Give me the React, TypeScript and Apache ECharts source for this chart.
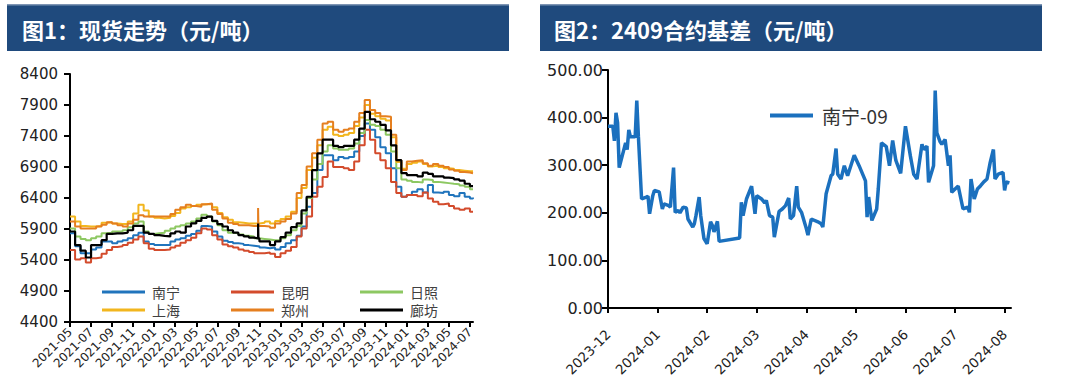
import React, { useEffect, useRef } from 'react';
import * as echarts from 'echarts';

// ---------- Chart 1: spot prices (yuan/ton) ----------
const spotDates = [
  '2021-05-01','2021-05-16','2021-06-01','2021-06-16','2021-07-01','2021-07-16','2021-08-01','2021-08-16',
  '2021-09-01','2021-09-16','2021-10-01','2021-10-16','2021-11-01','2021-11-16','2021-12-01','2021-12-16',
  '2022-01-01','2022-01-16','2022-02-01','2022-02-16','2022-03-01','2022-03-16','2022-04-01','2022-04-16',
  '2022-05-01','2022-05-16','2022-06-01','2022-06-16','2022-07-01','2022-07-16','2022-08-01','2022-08-16',
  '2022-09-01','2022-09-16','2022-10-01','2022-10-16','2022-10-28','2022-10-29',
  '2022-11-01','2022-11-16','2022-12-01','2022-12-16',
  '2023-01-01','2023-01-16','2023-02-01','2023-02-16','2023-03-01','2023-03-16','2023-04-01','2023-04-16',
  '2023-05-01','2023-05-16','2023-06-01','2023-06-16','2023-07-01','2023-07-16','2023-08-01','2023-08-16',
  '2023-09-01','2023-09-16','2023-10-01','2023-10-16','2023-11-01','2023-11-16','2023-12-01','2023-12-16',
  '2024-01-01','2024-01-16','2024-02-01','2024-02-16','2024-03-01','2024-03-16','2024-04-01','2024-04-16',
  '2024-05-01','2024-05-16','2024-06-01','2024-06-16','2024-07-01','2024-07-10',
];

const nanning = [
  5830,5620,5510,5510,5570,5600,5700,5700,5670,5700,5720,5750,5800,5840,5700,5660,
  5640,5640,5640,5700,5730,5750,5790,5820,5870,5950,5940,5860,5780,5710,5690,5670,5660,5640,5630,5620,
  5620,5620,
  5600,5590,5600,5570,
  5610,5670,5720,5790,5940,6260,6480,6850,7090,7090,7010,7060,7040,7060,7150,7400,7600,7500,7380,7220,7120,6880,6580,6420,
  6450,6500,6540,6490,6610,6490,6480,6500,6450,6430,6480,6420,6390,6410,
];
const kunming = [
  5560,5410,5430,5360,5430,5440,5500,5560,5610,5620,5640,5680,5730,5780,5670,5580,
  5560,5560,5570,5600,5630,5680,5720,5760,5830,5910,5890,5800,5730,5650,5620,5600,5570,5550,5530,5510,
  5510,5510,
  5510,5520,5500,5450,
  5510,5550,5610,5780,5910,6100,6420,6580,6740,6990,6900,6900,6880,6850,6990,7250,7500,7340,7120,7010,6880,6660,6480,6420,
  6450,6450,6430,6490,6390,6340,6300,6310,6270,6230,6210,6230,6180,6180,
];
const rizhao = [
  5910,5780,5740,5720,5750,5780,5830,5840,5860,5860,5880,5930,5990,6020,5860,5820,
  5830,5840,5870,5910,5940,5960,5990,6020,6070,6130,6100,6020,5960,5880,5840,5830,5810,5790,5780,5750,
  5750,5750,
  5740,5730,5720,5720,
  5750,5800,5880,5950,6150,6400,6700,6950,7150,7250,7200,7180,7180,7200,7280,7450,7660,7580,7560,7500,7420,7150,6880,6700,
  6680,6660,6650,6700,6690,6660,6650,6640,6630,6620,6600,6580,6540,6550,
];
const shanghai = [
  6100,6020,5950,5940,5940,5950,6000,6010,5990,5980,5980,6020,6150,6290,6200,6100,
  6080,6070,6080,6110,6160,6230,6250,6270,6290,6300,6300,6250,6160,6090,6050,6010,6000,5990,5990,5990,
  5990,5990,
  6000,6020,5990,6030,
  6060,6100,6180,6400,6560,6850,7050,7250,7500,7550,7420,7400,7420,7450,7560,7700,7900,7760,7720,7680,7650,7380,6980,6870,
  6950,6970,6990,6950,6910,6920,6900,6880,6870,6850,6840,6830,6830,6820,
];
const zhengzhou = [
  6020,5940,5910,5910,5910,5940,5970,6010,5990,5960,5940,5990,6050,6120,6100,6100,
  6100,6100,6100,6140,6210,6250,6290,6270,6260,6300,6310,6210,6140,6070,6000,5980,5960,5960,5950,5950,
  6240,5950,
  5950,5940,5920,5990,
  6020,6060,6150,6480,6610,6910,7120,7340,7600,7630,7500,7470,7500,7520,7630,7770,7980,7820,7770,7720,7710,7420,7010,6850,
  6990,7000,7010,6960,6920,6950,6920,6900,6860,6840,6820,6810,6800,6800,
];
const langfang = [
  5860,5640,5550,5440,5640,5640,5720,5820,5830,5830,5840,5880,5950,5950,5840,5820,
  5800,5790,5780,5830,5860,5840,5940,5990,6030,6080,6100,6030,5980,5940,5880,5840,5800,5780,5760,5750,
  5990,5750,
  5700,5700,5640,5700,
  5770,5840,5930,5990,6200,6420,6850,7120,7340,7340,7240,7220,7240,7240,7340,7520,7790,7670,7630,7580,7490,7250,7010,6800,
  6770,6770,6750,6810,6790,6750,6750,6730,6720,6700,6680,6630,6590,6580,
];

const spotNames = ['南宁', '昆明', '日照', '上海', '郑州', '廊坊'];
const spotColors = ['#2074BC', '#D34B2C', '#8DC862', '#F2B61E', '#E57F1F', '#000000'];
const spotTickLabels = [
  '2021-05','2021-07','2021-09','2021-11','2022-01','2022-03','2022-05','2022-07','2022-09','2022-11',
  '2023-01','2023-03','2023-05','2023-07','2023-09','2023-11','2024-01','2024-03','2024-05','2024-07',
];
const spotYTicks = [4400, 4900, 5400, 5900, 6400, 6900, 7400, 7900, 8400];

// ---------- Chart 2: 2409 contract basis ----------
const basisDates = [
  '2023-12-01','2023-12-04','2023-12-05','2023-12-06','2023-12-07','2023-12-08','2023-12-12','2023-12-13',
  '2023-12-14','2023-12-15','2023-12-18','2023-12-19','2023-12-20','2023-12-22','2023-12-25','2023-12-26',
  '2023-12-27','2023-12-29','2023-12-30','2024-01-02','2024-01-04','2024-01-05','2024-01-08','2024-01-09',
  '2024-01-11','2024-01-12','2024-01-14','2024-01-15','2024-01-17','2024-01-19','2024-01-20','2024-01-23',
  '2024-01-24','2024-01-25','2024-01-27','2024-01-28','2024-01-30','2024-02-01','2024-02-03','2024-02-04',
  '2024-02-05','2024-02-07','2024-02-08','2024-02-20','2024-02-21','2024-02-22','2024-02-24','2024-02-27',
  '2024-02-29','2024-03-01','2024-03-04','2024-03-06','2024-03-07','2024-03-09','2024-03-11','2024-03-12',
  '2024-03-15','2024-03-17','2024-03-19','2024-03-21','2024-03-22','2024-03-24','2024-03-26','2024-03-27',
  '2024-03-29','2024-04-01','2024-04-02','2024-04-04','2024-04-08','2024-04-10','2024-04-11','2024-04-13',
  '2024-04-16','2024-04-17','2024-04-19','2024-04-20','2024-04-22','2024-04-24','2024-04-26','2024-04-30',
  '2024-05-03','2024-05-07','2024-05-08','2024-05-09','2024-05-11','2024-05-14','2024-05-15','2024-05-17',
  '2024-05-20','2024-05-22','2024-05-24','2024-05-26','2024-05-29','2024-06-01','2024-06-04','2024-06-06',
  '2024-06-08','2024-06-11','2024-06-12','2024-06-14','2024-06-15','2024-06-18','2024-06-19','2024-06-20',
  '2024-06-22','2024-06-23','2024-06-25','2024-06-27','2024-06-28','2024-06-29','2024-07-02','2024-07-03',
  '2024-07-06','2024-07-09','2024-07-10','2024-07-11','2024-07-13','2024-07-15','2024-07-17','2024-07-19',
  '2024-07-21','2024-07-23','2024-07-25','2024-07-26','2024-07-28','2024-07-31','2024-08-01','2024-08-02',
  '2024-08-04',
];
const basisValues = [
  382,382,351,410,389,295,347,333,
  374,360,360,436,361,229,233,235,
  198,236,247,244,208,219,215,212,
  295,201,205,200,212,210,187,170,
  177,194,233,194,146,135,181,174,
  160,182,140,147,222,194,229,256,
  198,236,229,221,226,194,191,149,
  203,208,215,231,187,194,256,212,
  201,167,153,187,181,177,170,240,
  278,281,335,281,271,299,278,321,
  299,267,191,233,184,208,250,347,
  339,299,352,310,283,382,319,281,
  271,344,333,340,264,299,457,368,
  349,344,354,299,321,243,253,256,
  208,212,201,271,229,250,257,265,
  271,306,333,271,281,285,247,265,
  263,
];
const basisName = '南宁-09';
const basisColor = '#1B70BE';
const basisTickLabels = [
  '2023-12','2024-01','2024-02','2024-03','2024-04','2024-05','2024-06','2024-07','2024-08',
];

// ---------- helpers ----------
function daysIn(y: number, m: number) {
  return new Date(y, m, 0).getDate();
}
function monthIndex(date: string, base: string) {
  const [y, mo, d] = date.split('-').map(Number);
  const [by, bm] = base.split('-').map(Number);
  return (y - by) * 12 + (mo - bm) + ((d || 1) - 1) / daysIn(y, mo);
}

const SPOT_BASE = '2021-05';
const BASIS_BASE = '2023-12';

export default function App() {
  const ref = useRef<HTMLDivElement>(null);

  useEffect(() => {
    if (!ref.current) return;
    const chart = echarts.init(ref.current, undefined, { renderer: 'svg' });

    const spotTickPos = spotTickLabels.map((l) => monthIndex(l + '-01', SPOT_BASE));
    const basisTickPos = basisTickLabels.map((l) => monthIndex(l + '-01', BASIS_BASE));
    const spotX = spotDates.map((d) => monthIndex(d, SPOT_BASE));
    const basisX = basisDates.map((d) => monthIndex(d, BASIS_BASE));
    const spotSeriesValues = [nanning, kunming, rizhao, shanghai, zhengzhou, langfang];

    const labelFrom = (pos: number[], labels: string[]) => (v: number) => {
      const i = pos.findIndex((p) => Math.abs(p - v) < 1e-6);
      return i >= 0 ? labels[i] : '';
    };

    const axisLineStyle = { color: '#000', width: 2 };
    const numFont = 'DejaVu Sans';
    const cjkFont = 'Noto Sans CJK SC';

    const legendCommon = {
      orient: 'vertical',
      icon: 'rect',
      itemWidth: 43,
      itemHeight: 3,
      itemGap: 4,
      selectedMode: false,
      textStyle: { fontSize: 14, fontFamily: cjkFont, color: '#404040', padding: [0, 0, 0, 2] },
    };

    const option: any = {
      animation: false,
      backgroundColor: '#ffffff',
      graphic: [
        { type: 'rect', shape: { x: 7, y: 4, width: 502, height: 47 }, style: { fill: '#1F4A7D' } },
        { type: 'rect', shape: { x: 7, y: 4, width: 502, height: 1.5 }, style: { fill: '#7E95B4' } },
        { type: 'rect', shape: { x: 540, y: 4, width: 502, height: 47 }, style: { fill: '#1F4A7D' } },
        { type: 'rect', shape: { x: 540, y: 4, width: 502, height: 1.5 }, style: { fill: '#7E95B4' } },
        {
          type: 'text', x: 22, y: 29,
          style: { text: '图1：现货走势（元/吨）', fill: '#ffffff', fontSize: 22, fontWeight: 'bold', fontFamily: cjkFont, verticalAlign: 'middle' },
        },
        {
          type: 'text', x: 554, y: 29,
          style: { text: '图2：2409合约基差（元/吨）', fill: '#ffffff', fontSize: 22, fontWeight: 'bold', fontFamily: cjkFont, verticalAlign: 'middle' },
        },
      ],
      legend: [
        { ...legendCommon, data: ['南宁', '上海'], left: 97, top: 280 },
        { ...legendCommon, data: ['昆明', '郑州'], left: 226, top: 280 },
        { ...legendCommon, data: ['日照', '廊坊'], left: 355, top: 280 },
        {
          data: [basisName], left: 765, top: 101, icon: 'rect', itemWidth: 43, itemHeight: 4, selectedMode: false,
          textStyle: { fontSize: 19, fontFamily: cjkFont, color: '#333', padding: [0, 0, 0, 4] },
        },
      ],
      grid: [
        { left: 70, top: 74, width: 403, height: 248 },
        { left: 608, top: 70, width: 403, height: 238 },
      ],
      xAxis: [
        {
          type: 'value', gridIndex: 0, min: 0, max: monthIndex('2024-07-10', SPOT_BASE),
          axisLine: { show: true, onZero: false, lineStyle: axisLineStyle },
          axisTick: { show: true, length: 5, lineStyle: axisLineStyle, customValues: spotTickPos },
          axisLabel: {
            customValues: spotTickPos, rotate: 45, margin: 8, fontSize: 12, fontFamily: numFont, color: '#222',
            formatter: labelFrom(spotTickPos, spotTickLabels),
          },
          splitLine: { show: false },
        },
        {
          type: 'value', gridIndex: 1, min: 0, max: monthIndex('2024-08-05', BASIS_BASE),
          axisLine: { show: true, onZero: false, lineStyle: axisLineStyle },
          axisTick: { show: true, length: 5, lineStyle: axisLineStyle, customValues: basisTickPos },
          axisLabel: {
            customValues: basisTickPos, rotate: 45, margin: 24, fontSize: 13.5, fontFamily: numFont, color: '#222',
            formatter: labelFrom(basisTickPos, basisTickLabels),
          },
          splitLine: { show: false },
        },
      ],
      yAxis: [
        {
          type: 'value', gridIndex: 0, min: 4400, max: 8400,
          axisLine: { show: true, lineStyle: axisLineStyle },
          axisTick: { show: true, length: 6, lineStyle: axisLineStyle, customValues: spotYTicks },
          axisLabel: {
            customValues: spotYTicks, margin: 12, fontSize: 15, fontFamily: numFont, color: '#222',
            formatter: (v: number) => String(Math.round(v)),
          },
          splitLine: { show: false },
        },
        {
          type: 'value', gridIndex: 1, min: 0, max: 500, interval: 100,
          axisLine: { show: true, lineStyle: axisLineStyle },
          axisTick: { show: true, length: 6, lineStyle: axisLineStyle },
          axisLabel: {
            margin: 5, fontSize: 16, fontFamily: numFont, color: '#222',
            formatter: (v: number) => v.toFixed(2),
          },
          splitLine: { show: false },
        },
      ],
      series: [
        ...spotNames.map((name, i) => ({
          name,
          type: 'line',
          xAxisIndex: 0,
          yAxisIndex: 0,
          step: 'end',
          symbol: 'none',
          showSymbol: false,
          color: spotColors[i],
          itemStyle: { color: spotColors[i] },
          lineStyle: { color: spotColors[i], width: i === 5 ? 2.2 : 2 },
          data: spotX.map((x, j) => [x, spotSeriesValues[i][j]]),
        })),
        {
          name: basisName,
          type: 'line',
          xAxisIndex: 1,
          yAxisIndex: 1,
          symbol: 'none',
          showSymbol: false,
          color: basisColor,
          itemStyle: { color: basisColor },
          lineStyle: { color: basisColor, width: 3.5 },
          data: basisX.map((x, j) => [x, basisValues[j]]),
        },
      ],
    };

    chart.setOption(option);
    return () => chart.dispose();
  }, []);

  return (
    <div
      ref={ref}
      style={{ position: 'absolute', left: 0, top: 0, width: 1079, height: 383, background: '#fff' }}
    />
  );
}
